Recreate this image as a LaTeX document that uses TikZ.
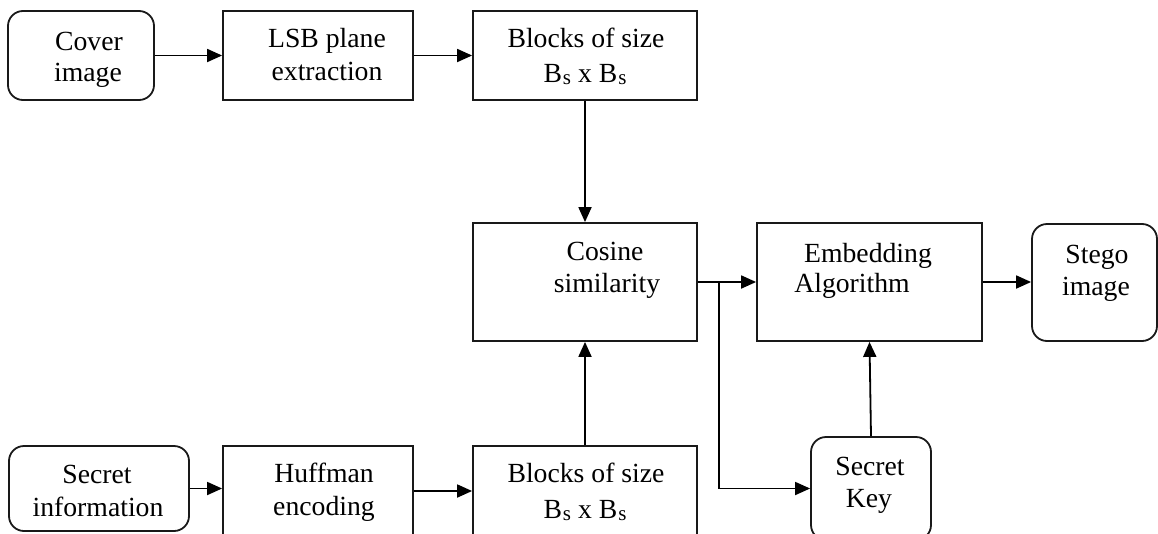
\documentclass[tikz,border=0pt]{standalone}
\usepackage{fontspec}
\setmainfont{Liberation Serif}
\usetikzlibrary{arrows.meta}

\tikzset{
  blockbox/.style={draw=black!90, line width=1.8pt, inner sep=0pt, fill=white},
  roundbox/.style={blockbox, rounded corners=15pt},
  lbl/.style={anchor=base, inner sep=0pt, font=\fontsize{27.7}{32}\selectfont},
  arr/.style={line width=1.8pt, -{Triangle[length=15pt,width=13pt]}},
}

\newcommand{\Bsub}{B\kern1pt\raisebox{-0.1em}{\fontsize{21}{21}\selectfont s}}

\begin{document}
\begin{tikzpicture}[x=1pt, y=-1pt]
\useasboundingbox (0,0) rectangle (1158,533);
\fill[white] (0,0) rectangle (1158,533);
\clip (0,0) rectangle (1158,533);

% boxes (centre, width, height in pixel units)
\node[roundbox, minimum width=146pt, minimum height=89pt] (cover) at (81,55.5) {};
\node[blockbox, minimum width=190pt, minimum height=89pt] (lsb) at (318,55.5) {};
\node[blockbox, minimum width=224pt, minimum height=89pt] (blkA) at (585,55.5) {};
\node[blockbox, minimum width=224pt, minimum height=118pt] (cos) at (585,282) {};
\node[blockbox, minimum width=225pt, minimum height=118pt] (emb) at (869.5,282) {};
\node[roundbox, minimum width=125pt, minimum height=117pt] (stego) at (1094.5,282.5) {};
\node[roundbox, minimum width=180pt, minimum height=85pt] (sinfo) at (99,488.5) {};
\node[blockbox, minimum width=190pt, minimum height=99pt] (huff) at (318,495.5) {};
\node[blockbox, minimum width=224pt, minimum height=99pt] (blkB) at (585,495.5) {};
\node[roundbox, minimum width=120pt, minimum height=103pt] (skey) at (871,488.5) {};

% labels
\node[lbl] (tcoverA) at (89,50) {Cover};
\node[lbl] (tcoverB) at (88,81) {image};
\node[lbl] (tlsbA) at (327,47) {LSB plane};
\node[lbl] (tlsbB) at (327,80) {extraction};
\node[lbl] (tblkAa) at (586,47) {Blocks of size};
\node[lbl] (tblkAb) at (585,82) {\Bsub{} x \Bsub};
\node[lbl] (tcosA) at (605,260) {Cosine};
\node[lbl] (tcosB) at (607,292) {similarity};
\node[lbl] (tembA) at (868,262) {Embedding};
\node[lbl] (tembB) at (852,292) {Algorithm};
\node[lbl] (tstegoA) at (1097,263) {Stego};
\node[lbl] (tstegoB) at (1096,295) {image};
\node[lbl] (tsinfoA) at (97,483) {Secret};
\node[lbl] (tsinfoB) at (98,516) {information};
\node[lbl] (thuffA) at (324,482) {Huffman};
\node[lbl] (thuffB) at (324,515) {encoding};
\node[lbl] (tblkBa) at (586,482) {Blocks of size};
\node[lbl] (tblkBb) at (585,518) {\Bsub{} x \Bsub};
\node[lbl] (tskeyA) at (870,475) {Secret};
\node[lbl] (tskeyB) at (869,507) {Key};

% connectors
\draw[arr] (cover.east) -- (lsb.west);
\draw[arr] (lsb.east) -- (blkA.west);
\draw[arr] (blkA.south) -- (cos.north);
\draw[arr] (blkB.north) -- (cos.south);
\draw[arr] (sinfo.east) -- (sinfo.east -| huff.west);
\draw[arr] ([yshift=4.5pt]huff.east) -- ([yshift=4.5pt]blkB.west);
\draw[arr] (cos.east) -- (emb.west);
\coordinate (split) at (719,282);
\draw[arr] (split) |- (skey.west);
\draw[arr] (skey.north) -- (emb.south);
\draw[arr] (emb.east) -- (emb.east -| stego.west);
\end{tikzpicture}
\end{document}
